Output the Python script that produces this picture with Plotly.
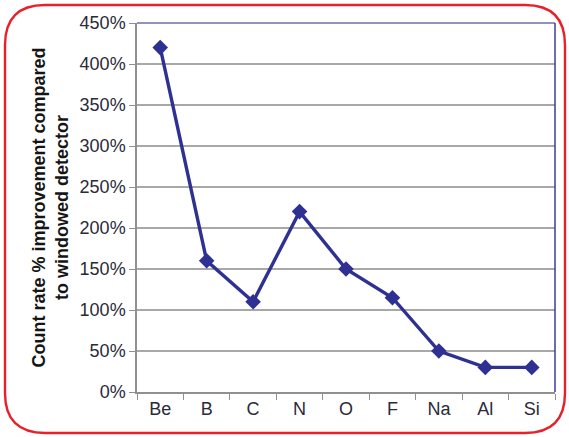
import plotly.graph_objects as go

elements = ["Be", "B", "C", "N", "O", "F", "Na", "Al", "Si"]
improvement_pct = [420, 160, 110, 220, 150, 115, 50, 30, 30]
y_tick_vals = [0, 50, 100, 150, 200, 250, 300, 350, 400, 450]
y_tick_text = [f"{v}%" for v in y_tick_vals]

W, H = 569, 437
L, R, T, B = 137, 14, 23, 45
pw, ph = W - L - R, H - T - B

def px(x):
    return (x - L) / pw

def py(y):
    return 1 - (y - T) / ph

fig = go.Figure()
fig.add_trace(go.Scatter(
    x=elements, y=improvement_pct, mode="lines+markers",
    line=dict(color="#2E3192", width=3.4),
    marker=dict(symbol="diamond", size=12, color="#2E3192"),
    showlegend=False,
))

# red rounded border
x0, x1, y0, y1, r = 5, 565, 5, 433, 40
pts = [
    f"M {px(x0+r)},{py(y0)}",
    f"L {px(x1-r)},{py(y0)}",
    f"Q {px(x1)},{py(y0)} {px(x1)},{py(y0+r)}",
    f"L {px(x1)},{py(y1-r)}",
    f"Q {px(x1)},{py(y1)} {px(x1-r)},{py(y1)}",
    f"L {px(x0+r)},{py(y1)}",
    f"Q {px(x0)},{py(y1)} {px(x0)},{py(y1-r)}",
    f"L {px(x0)},{py(y0+r)}",
    f"Q {px(x0)},{py(y0)} {px(x0+r)},{py(y0)}",
    "Z",
]
fig.add_shape(type="path", path=" ".join(pts), xref="paper", yref="paper",
              line=dict(color="#E8202A", width=2.4), layer="above")
# top and right plot borders
fig.add_shape(type="line", x0=0, x1=1, y0=1, y1=1, xref="paper", yref="paper",
              line=dict(color="#6B6FA8", width=1.5))
fig.add_shape(type="line", x0=1, x1=1, y0=0, y1=1, xref="paper", yref="paper",
              line=dict(color="#3A3F95", width=1.5))

fig.update_layout(
    width=W, height=H,
    margin=dict(l=L, r=R, t=T, b=B),
    paper_bgcolor="white", plot_bgcolor="white",
    font=dict(family="Liberation Sans, Arial, sans-serif", size=18, color="#2A2A38"),
    xaxis=dict(
        type="category", tickson="boundaries", ticks="outside", ticklen=6,
        tickcolor="#909090", showline=True, linecolor="#909090", linewidth=1.5,
        showgrid=False, tickfont=dict(size=18), range=[-0.5, 8.5],
    ),
    yaxis=dict(
        range=[0, 450], tickvals=y_tick_vals, ticktext=y_tick_text,
        ticks="outside", ticklen=6, tickcolor="#909090",
        showline=True, linecolor="#909090", linewidth=1.5,
        showgrid=True, gridcolor="#A8A8A8", gridwidth=1.5, zeroline=False,
        tickfont=dict(size=18),
        title=dict(text="<b>Count rate % improvement compared<br>to windowed detector</b>",
                   font=dict(size=18, color="#151515"), standoff=6),
    ),
)

fig.write_html("out.html", config={"displayModeBar": False},
               post_script="document.body.style.margin='0';")
